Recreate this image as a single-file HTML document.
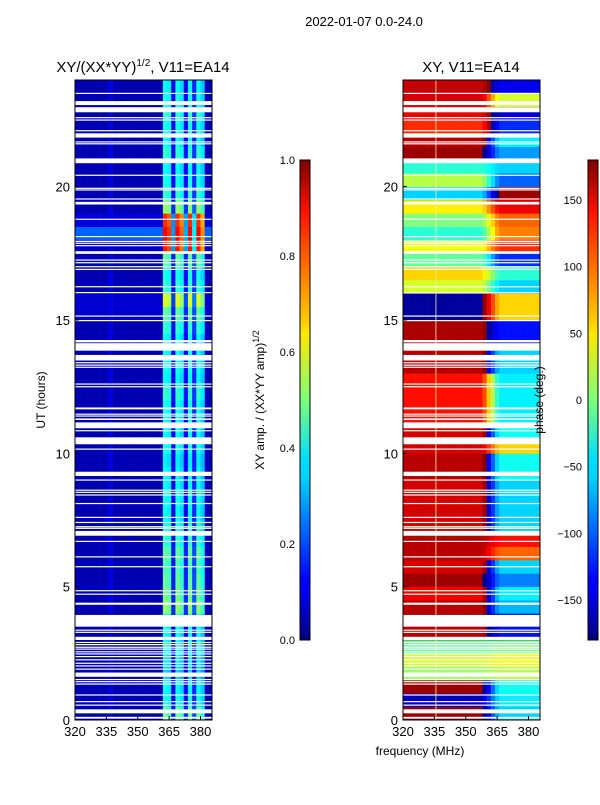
<!DOCTYPE html>
<html><head><meta charset="utf-8">
<style>
html,body{margin:0;padding:0;background:#fff;}
body{width:600px;height:800px;overflow:hidden;font-family:"Liberation Sans",sans-serif;}
svg text{font-family:"Liberation Sans",sans-serif;}
</style></head>
<body>
<svg id="fig" width="600" height="800" viewBox="0 0 600 800" xmlns="http://www.w3.org/2000/svg">
<defs>
<linearGradient id="jet" x1="0" y1="1" x2="0" y2="0">
<stop offset="0" stop-color="#00007f"/><stop offset="0.11" stop-color="#0000ff"/>
<stop offset="0.125" stop-color="#0000ff"/><stop offset="0.34" stop-color="#00d4ff"/>
<stop offset="0.375" stop-color="#0df"/><stop offset="0.5" stop-color="#7dff7a"/>
<stop offset="0.64" stop-color="#ffe600"/><stop offset="0.66" stop-color="#ffd000"/>
<stop offset="0.89" stop-color="#ff1300"/><stop offset="1" stop-color="#7f0000"/>
</linearGradient>
</defs>
<text x="364" y="26" font-size="13" text-anchor="middle">2022-01-07 0.0-24.0</text>
<text x="143" y="72" font-size="15" text-anchor="middle">XY/(XX*YY)<tspan font-size="10" dy="-6">1/2</tspan><tspan dy="6">, V11=EA14</tspan></text>
<text x="471" y="72" font-size="15" text-anchor="middle">XY, V11=EA14</text>
<g id="left"></g>
<g id="right"></g>
<g id="axes"></g>
<text x="420" y="755" font-size="12" text-anchor="middle">frequency (MHz)</text>
<text transform="translate(45,400) rotate(-90)" font-size="12" text-anchor="middle">UT (hours)</text>
<rect x="300" y="160" width="10" height="480" fill="url(#jet)" stroke="#000" stroke-width="1"/>
<rect x="588" y="160" width="10" height="480" fill="url(#jet)" stroke="#000" stroke-width="1"/>
<text transform="translate(264,400) rotate(-90)" font-size="12" text-anchor="middle">XY amp. / (XX*YY amp)<tspan font-size="9" dy="-5">1/2</tspan></text>
<text transform="translate(543,400) rotate(-90)" font-size="12" text-anchor="middle">phase (deg.)</text>
</svg>
<script>
// ---- data ----
const freqStart = 320, freqBin = 2;
const colGain = [0.04,0.04,0.04,0.04,0.04,0.04,0.04,0.04,0.1,0.04,0.04,0.04,0.04,0.04,0.04,0.04,0.04,0.04,0.04,0.04,0.04,
  0.95,0.9,0.3,0.95,0.85,0.32,0.95,0.4,0.95,0.8,0.06,0.04];
const rowAmp = [0.5,0.42,0.4,0.35,0.38,0.4,0.4,0.42,0.55,0.52,0.5,0.48,0.5,0.45,0.42,0.4,0.42,0.4,0.4,0.38,0.42,0.4,0.4,0.42,
  0.45,0.4,0.42,0.4,0.4,0.45,0.5,0.62,0.45,0.42,0.5,0.9,0.92,0.88,0.55,0.45,0.42,0.4,0.45,0.4,0.42,0.45,0.42,0.4];
const rowBg = [0.05,0.05,0.05,0.05,0.05,0.05,0.05,0.05,0.05,0.05,0.05,0.05,0.05,0.05,0.05,0.05,0.05,0.05,0.05,0.05,0.05,0.05,0.05,0.05,
  0.05,0.05,0.05,0.05,0.05,0.05,0.08,0.08,0.05,0.05,0.05,0.07,0.22,0.09,0.05,0.05,0.05,0.05,0.05,0.05,0.05,0.05,0.05,0.05];
const phaseLo = [170,-160,170,10,30,-10,160,165,160,140,170,150,160,160,150,150,150,150,160,160,150,150,130,130,
  130,130,160,160,165,165,-170,-170,30,60,-10,40,-30,0,50,-60,20,-30,170,160,120,140,150,155];
const phaseHi = [-60,-50,-40,20,40,0,-130,-130,-70,-50,-90,-60,100,130,-60,-60,-60,-60,-40,-40,60,-40,-50,-50,
  -50,-50,-60,-60,-130,-130,60,60,-60,-30,-120,120,90,100,140,170,-100,-60,-80,-50,-120,-150,30,-140];
const flags = [[0.05,0.12],[0.25,0.4],[0.55,0.58],[0.68,0.71],[0.93,0.96],[1.34,1.37],[1.43,1.46],[1.51,1.54],[1.62,1.78],
 [1.9,1.93],[2.02,2.05],[2.12,2.15],[2.25,2.28],[2.37,2.4],[2.47,2.5],[2.55,2.58],[2.65,2.68],[2.72,2.75],[2.82,2.85],[2.9,2.93],
 [3.0,3.12],[3.28,3.31],[3.36,3.39],[3.5,3.94],[4.32,4.4],[4.71,4.74],[4.84,4.87],[5.74,5.77],[6.11,6.14],[6.69,6.72],
 [6.91,7.09],[7.18,7.21],[7.24,7.27],[7.4,7.43],[7.59,7.62],[8.11,8.14],[8.43,8.46],[8.53,8.56],[8.61,8.64],[8.99,9.02],
 [9.15,9.31],[10.15,10.18],[10.34,10.6],[10.84,10.87],[10.94,11.16],[11.25,11.31],[11.39,11.42],[11.46,11.49],[11.65,11.72],
 [12.49,12.52],[12.59,12.62],[13.22,13.25],[13.3,13.33],[13.39,13.42],[13.48,13.69],[13.85,14.13],[14.16,14.25],[14.97,15.0],
 [15.14,15.17],[16.02,16.05],[16.24,16.27],[16.89,16.92],[16.99,17.02],[17.14,17.17],[17.24,17.27],[17.48,17.58],[17.78,17.81],
 [17.87,17.9],[17.94,17.97],[18.12,18.15],[18.77,18.8],[19.33,19.43],[19.53,19.56],[19.87,19.9],[19.93,19.96],[20.42,20.45],
 [20.88,21.06],[21.6,21.63],[21.67,21.7],[21.84,22.0],[22.09,22.12],[22.49,22.52],[22.58,22.61],[22.79,22.98],[23.06,23.21],[23.49,23.52]];
const yTicks = [0,5,10,15,20];
const xTicks = [320,335,350,365,380];
const ampTicks = ["0.0","0.2","0.4","0.6","0.8","1.0"];
const phaseTicks = [-150,-100,-50,0,50,100,150];

// ---- scales ----
const PY0=720, PY1=80, HMAX=24, FMAX=385.5;
const yS = h => PY0 - (h/HMAX)*(PY0-PY1);
function xS(px0){ return f => px0 + (f-freqStart)/(FMAX-freqStart)*137; }
const xL = xS(75), xR = xS(403);
function jet(v){
  v=Math.max(0,Math.min(1,v));
  const c=x=>Math.round(255*Math.max(0,Math.min(1,x)));
  return `rgb(${c(1.5-Math.abs(4*v-3))},${c(1.5-Math.abs(4*v-2))},${c(1.5-Math.abs(4*v-1))})`;
}
const NS="http://www.w3.org/2000/svg";
function mk(tag,attrs,parent){const e=document.createElementNS(NS,tag);for(const k in attrs)e.setAttribute(k,attrs[k]);parent.appendChild(e);return e;}
const gL=document.getElementById('left'), gR=document.getElementById('right'), gA=document.getElementById('axes');
const rowH = HMAX/rowAmp.length;
for(let r=0;r<rowAmp.length;r++){
  const y0=yS((r+1)*rowH), y1=yS(r*rowH);
  for(let c=0;c<colGain.length;c++){
    const f0=freqStart+c*freqBin, f1=Math.min(FMAX,f0+freqBin);
    if(f0>=FMAX) break;
    const g=colGain[c];
    const v = g<0.2 ? Math.max(rowBg[r],g) : rowAmp[r]*g;
    const a=mk('rect',{x:xL(f0),y:y0,width:xL(f1)-xL(f0)+0.3,height:y1-y0+0.3,fill:jet(v)},gL);
    
    
    const fm=(f0+f1)/2;
    let t=(fm-358)/8; t=Math.max(0,Math.min(1,t));
    let d=phaseHi[r]-phaseLo[r]; if(d>180)d-=360; if(d<-180)d+=360;
    let p=phaseLo[r]+t*d; if(p>180)p-=360; if(p<-180)p+=360;
    const b=mk('rect',{x:xR(f0),y:y0,width:xR(f1)-xR(f0)+0.3,height:y1-y0+0.3,fill:jet((p+180)/360)},gR);
    
    
  }
}
mk('rect',{x:xR(335.5),y:80,width:1,height:640,fill:'#f4f0a0',opacity:0.8},gR);
for(const fl of flags){
  for(const g of [gL,gR]){
    const px = g===gL?75:403;
    const w=mk('rect',{x:px,y:yS(fl[1]),width:137,height:Math.max(1.2,yS(fl[0])-yS(fl[1])),fill:'#fff'},g);
    
    
  }
}
for(const px of [75,403]){
  mk('rect',{x:px,y:80,width:137,height:640,fill:'none',stroke:'#000','stroke-width':1},gA);
  for(const h of yTicks){
    const t=mk('text',{x:px-5,y:yS(h)+5,'font-size':13,'text-anchor':'end'},gA);t.textContent=h;
    
    
    mk('line',{x1:px,x2:px+4,y1:yS(h),y2:yS(h),stroke:'#000'},gA);
  }
  const xs=xS(px);
  for(const f of xTicks){
    const t=mk('text',{x:xs(f),y:736,'font-size':13,'text-anchor':'middle'},gA);t.textContent=f;
    
    
    mk('line',{x1:xs(f),x2:xs(f),y1:720,y2:716,stroke:'#000'},gA);
  }
}
ampTicks.forEach((s,i)=>{
  const y=640-i*96;
  const t=mk('text',{x:295,y:y+4,'font-size':11,'text-anchor':'end'},gA);t.textContent=s;
  
  
  mk('line',{x1:300,x2:310,y1:y,y2:y,stroke:'#000','stroke-width':0.8},gA);
});
phaseTicks.forEach(v=>{
  const y=640-(v+180)/360*480;
  const t=mk('text',{x:582,y:y+4,'font-size':11,'text-anchor':'end'},gA);t.textContent=v<0?'\u2212'+(-v):v;
  
  
  mk('line',{x1:588,x2:598,y1:y,y2:y,stroke:'#000','stroke-width':0.8},gA);
});
</script>
</body></html>
